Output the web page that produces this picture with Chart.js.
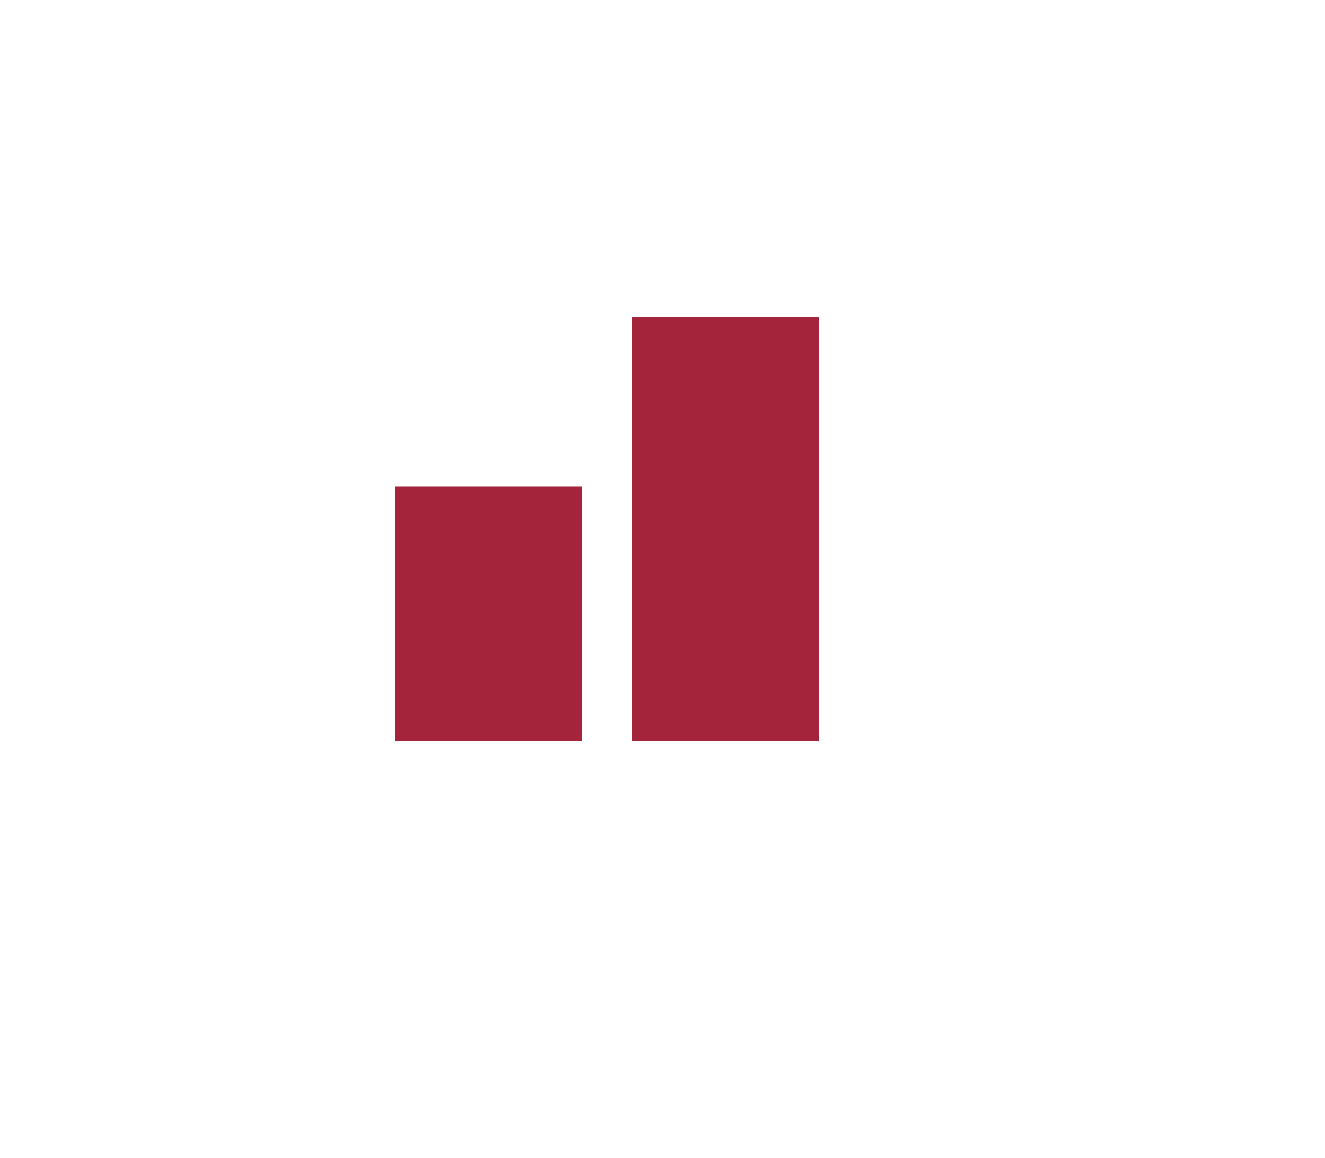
<!DOCTYPE html>
<html>
<head>
<meta charset="utf-8">
<script src="https://cdn.jsdelivr.net/npm/chart.js@4/dist/chart.umd.min.js"></script>
<style>
  html, body { margin: 0; padding: 0; background: #fff; }
  #wrap { position: relative; width: 1325px; height: 1158px; }
</style>
</head>
<body>
<div id="wrap"><canvas id="barChart"></canvas></div>
<script>
const categories = ["A", "B"];
const values = [3, 5];
const yMin = 0;
const yMax = 5;
const barColor = "#a4243b";

const ctx = document.getElementById("barChart");

new Chart(ctx, {
  type: "bar",
  data: {
    labels: categories,
    datasets: [
      {
        data: values,
        backgroundColor: barColor,
        borderWidth: 0,
        categoryPercentage: 1,
        barPercentage: 0.789,
      },
    ],
  },
  options: {
    responsive: true,
    maintainAspectRatio: false,
    animation: false,
    layout: {
      padding: {
        top: 317,
        bottom: 417,
        left: 370,
        right: 481,
      },
    },
    scales: {
      x: {
        display: false,
      },
      y: {
        display: false,
        min: yMin,
        max: yMax,
      },
    },
    plugins: {
      legend: { display: false },
      tooltip: { enabled: false },
    },
  },
});
</script>
</body>
</html>
